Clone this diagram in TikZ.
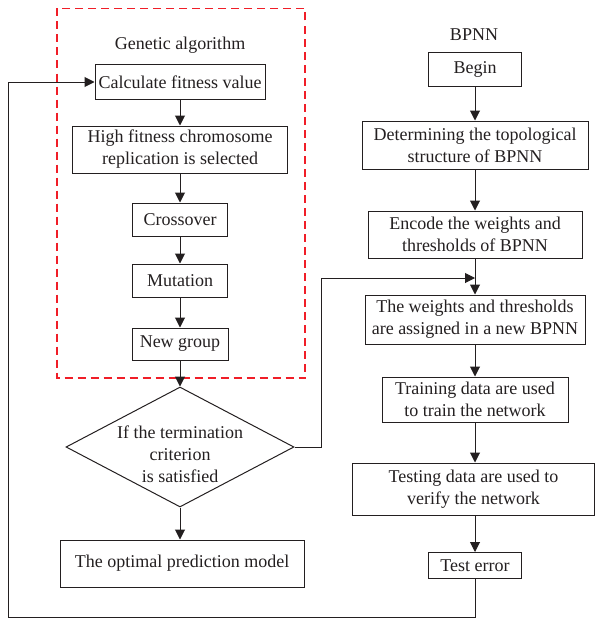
\documentclass[tikz,border=0pt]{standalone}
\usepackage{fontspec}
\setmainfont{Liberation Serif}
\usetikzlibrary{shapes.geometric,arrows.meta}

\definecolor{ink}{RGB}{35,31,32}
\definecolor{gared}{RGB}{240,30,40}

\begin{document}
\begin{tikzpicture}[x=1pt, y=-1pt, line width=1pt,
    txt/.style={font=\fontsize{18}{22}\selectfont, text=ink},
    box/.style={txt, draw=ink, align=center, inner sep=2pt},
    decision/.style={draw=ink, diamond, inner sep=0pt, minimum width=228pt, minimum height=120pt},
    flow/.style={draw=ink, -{Triangle[width=10pt,length=10pt]}},
    gaframe/.style={draw=gared, line width=1.3pt, dash pattern=on 8pt off 5pt}]
  \useasboundingbox (0,0) rectangle (595,618);

  % genetic algorithm (left column)
  \draw[gaframe] (57,8.5) rectangle (305,378);
  \node[txt] (gatitle) at (180,45) {Genetic algorithm};
  \node[box, minimum width=170pt, minimum height=34pt] (calc) at (180,82) {Calculate fitness value};
  \node[box, minimum width=215pt, minimum height=47pt] (select) at (180,149.5)
    {High fitness chromosome\\replication is selected};
  \node[box, minimum width=95pt, minimum height=33pt] (cross) at (180,219.5) {Crossover};
  \node[box, minimum width=95pt, minimum height=33pt] (mut) at (180,280.5) {Mutation};
  \node[box, minimum width=96pt, minimum height=32pt] (newg) at (180,344) {New group};
  \node[decision, label={[txt, align=center, name=checktext, yshift=-7pt]center:{If the termination\\criterion\\is satisfied}}]
    (check) at (180,447) {};
  \node[box, minimum width=244pt, minimum height=47pt] (optimal) at (182,563.5) {The optimal prediction model};

  % BPNN (right column)
  \node[txt] (bptitle) at (474,35) {BPNN};
  \node[box, minimum width=93pt, minimum height=33pt] (begin) at (475,69.5) {Begin};
  \node[box, minimum width=226pt, minimum height=48pt] (topo) at (475,145)
    {Determining the topological\\structure of BPNN};
  \node[box, minimum width=214pt, minimum height=47pt] (encode) at (475,234.5)
    {Encode the weights and\\thresholds of BPNN};
  \node[box, minimum width=220pt, minimum height=49pt] (assign) at (475,319.5)
    {The weights and thresholds\\are assigned in a new BPNN};
  \node[box, minimum width=186pt, minimum height=45pt] (train) at (475,399.5)
    {Training data are used\\to train the network};
  \node[box, minimum width=242pt, minimum height=52pt] (test) at (473.5,489)
    {Testing data are used to\\verify the network};
  \node[box, minimum width=93pt, minimum height=26pt] (err) at (475,565.5) {Test error};

  \coordinate (turn) at (321,278);
  \coordinate (join) at (475,278);
  \coordinate (back) at (8,617);

  % connectors
  \draw[flow] (calc) -- (select);
  \draw[flow] (select) -- (cross);
  \draw[flow] (cross) -- (mut);
  \draw[flow] (mut) -- (newg);
  \draw[flow] (newg) -- (check);
  \draw[flow] (check.south) -- (check.south |- optimal.north);

  \draw[flow] (begin) -- (topo);
  \draw[flow] (topo) -- (encode);
  \draw[flow] (encode) -- (assign);
  \draw[flow] (assign) -- (train);
  \draw[flow] (train.south) -- (train.south |- test.north);
  \draw[flow] (err.north |- test.south) -- (err.north);

  \draw[flow] (check.east) -| (turn) -- (join);
  \draw[flow] (err.south) |- (back) |- (calc.west);
\end{tikzpicture}
\end{document}
